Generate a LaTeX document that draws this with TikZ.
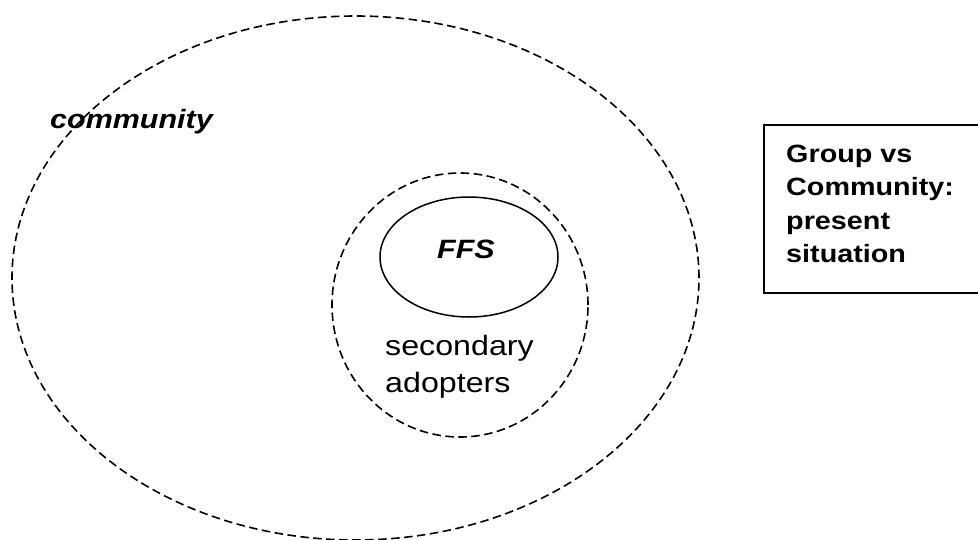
\documentclass[tikz,border=0pt]{standalone}
\usepackage{fontspec}
\setmainfont{Liberation Sans}

\begin{document}
\begin{tikzpicture}[
        x=1pt, y=-1pt,
        ring/.style={line width=1.6pt, dash pattern=on 8.5pt off 4.5pt},
        core/.style={line width=1.5pt},
        frame/.style={line width=1.6pt},
        wide text/.style={xscale=1.15, inner sep=0pt},
        set label/.style={wide text, font=\fontsize{26.5}{32}\selectfont\bfseries\itshape},
        plain label/.style={wide text, font=\fontsize{28}{37}\selectfont, align=left},
        title text/.style={wide text, font=\fontsize{25}{33.5}\selectfont\bfseries, align=left},
    ]

    % Canvas
    \useasboundingbox (0,0) rectangle (978,539);
    \clip (0,0) rectangle (978,539);

    % Community (outer dashed ring)
    \draw[ring] (355.5,278) ellipse [x radius=343.5pt, y radius=262pt];
    \node[set label, anchor=base west] (community) at (50,128) {community};

    % Secondary adopters (inner dashed ring)
    \draw[ring] (460,305) ellipse [x radius=128pt, y radius=132pt];
    \node[plain label, anchor=north west] (adopters) at (385,335.5) {secondary\\adopters};

    % FFS core
    \draw[core] (469,257) ellipse [x radius=89pt, y radius=60pt];
    \node[set label, anchor=base] (ffs) at (466,258) {FFS};

    % Title box
    \draw[frame] (764,125) rectangle (990,293);
    \node[title text, anchor=north west] (title) at (786,144.8) {Group vs\\Community:\\present\\situation};

\end{tikzpicture}
\end{document}
